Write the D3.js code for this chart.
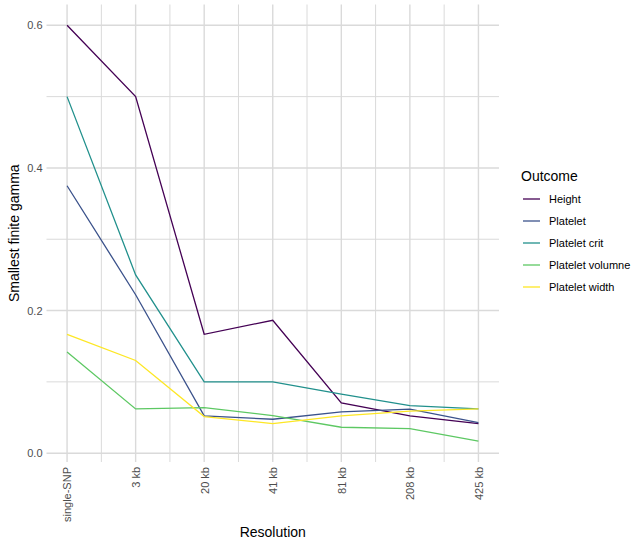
<!DOCTYPE html>
<html>
<head>
<meta charset="utf-8">
<script src="https://cdn.jsdelivr.net/npm/d3@7"></script>
<style>
body{margin:0;background:#fff;}
svg{display:block;font-family:"Liberation Sans",Arial,sans-serif;}
</style>
</head>
<body>
<svg id="chart" width="632" height="542"></svg>
<script>
const categories = ["single-SNP","3 kb","20 kb","41 kb","81 kb","208 kb","425 kb"];
const seriesNames = ["Height","Platelet","Platelet crit","Platelet volumne","Platelet width"];
const height = [0.6, 0.5, 0.1667, 0.1864, 0.0705, 0.0523, 0.0415];
const platelet = [0.375, 0.2222, 0.0523, 0.0476, 0.0579, 0.0617, 0.0429];
const plateletCrit = [0.5, 0.25, 0.1, 0.1, 0.0827, 0.0667, 0.0621];
const plateletVolumne = [0.142, 0.0621, 0.064, 0.0527, 0.0364, 0.0345, 0.0168];
const plateletWidth = [0.1667, 0.130, 0.0513, 0.0415, 0.0523, 0.0589, 0.0621];
const yTicks = [0, 0.2, 0.4, 0.6];
const yMinor = [0.1, 0.3, 0.5];
const colors = ["#440154","#3B528B","#21908C","#5DC863","#FDE725"];

(function(){
const seriesValues = [height, platelet, plateletCrit, plateletVolumne, plateletWidth];
const series = seriesNames.map((n,i)=>({name:n, values:seriesValues[i], color:colors[i]}));

const svg = d3.select("#chart");
const pLeft = 46.5, pRight = 499, pTop = 4.5, pBottom = 462;

const n = categories.length;
const x = d3.scaleLinear().domain([1 - 0.05*(n-1), n + 0.05*(n-1)]).range([pLeft, pRight]);
const all = seriesValues.flat();
const ymin = d3.min(all), ymax = d3.max(all), yr = ymax - ymin;
const y = d3.scaleLinear().domain([ymin - 0.05*yr, ymax + 0.05*yr]).range([pBottom, pTop]);

const grid = svg.append("g");
const gridColor = "#dadada";
d3.range(1.5, n, 1).forEach(v=>{
  grid.append("line").attr("x1",x(v)).attr("x2",x(v)).attr("y1",pTop).attr("y2",pBottom)
    .attr("stroke",gridColor).attr("stroke-width",1);
});
yMinor.forEach(v=>{
  grid.append("line").attr("x1",pLeft).attr("x2",pRight).attr("y1",y(v)).attr("y2",y(v))
    .attr("stroke",gridColor).attr("stroke-width",1);
});
d3.range(1, n+1).forEach(v=>{
  grid.append("line").attr("x1",x(v)).attr("x2",x(v)).attr("y1",pTop).attr("y2",pBottom)
    .attr("stroke",gridColor).attr("stroke-width",1.4);
});
yTicks.forEach(v=>{
  grid.append("line").attr("x1",pLeft).attr("x2",pRight).attr("y1",y(v)).attr("y2",y(v))
    .attr("stroke",gridColor).attr("stroke-width",1.4);
});

const yAxis = d3.axisLeft(y).tickValues(yTicks).tickFormat(d3.format(".1f")).tickSize(0).tickPadding(4);
const ya = svg.append("g").attr("transform",`translate(${pLeft},0)`).call(yAxis);
ya.select(".domain").remove();
ya.selectAll("text").attr("fill","#4d4d4d").style("font-size","11px");

const xAxis = d3.axisBottom(x).tickValues(d3.range(1,n+1)).tickFormat(d=>categories[d-1]).tickSize(0).tickPadding(0);
const xa = svg.append("g").attr("transform",`translate(0,${pBottom})`).call(xAxis);
xa.select(".domain").remove();
xa.selectAll("text").attr("fill","#4d4d4d").style("font-size","11px")
  .attr("transform","rotate(-90)").attr("text-anchor","end")
  .attr("x",-5).attr("y",0).attr("dy","0.35em");

const line = d3.line().x((d,i)=>x(i+1)).y(d=>y(d));
series.forEach(s=>{
  svg.append("path").datum(s.values).attr("d",line).attr("fill","none")
    .attr("stroke",s.color).attr("stroke-width",1.3);
});

svg.append("text").attr("x",(pLeft+pRight)/2).attr("y",537).attr("text-anchor","middle")
  .style("font-size","14px").attr("fill","#000").text("Resolution");
svg.append("text").attr("transform",`translate(19,${(pTop+pBottom)/2}) rotate(-90)`)
  .attr("text-anchor","middle").style("font-size","14px").attr("fill","#000").text("Smallest finite gamma");

const lg = svg.append("g");
lg.append("text").attr("x",521).attr("y",181).style("font-size","14px").attr("fill","#000").text("Outcome");
series.forEach((s,i)=>{
  const yy = 199 + i*22;
  lg.append("line").attr("x1",523).attr("x2",540).attr("y1",yy).attr("y2",yy)
    .attr("stroke",s.color).attr("stroke-width",1.3);
  lg.append("text").attr("x",549).attr("y",yy).attr("dy","0.35em").style("font-size","11px")
    .attr("fill","#000").text(s.name);
});
})();
</script>
</body>
</html>
